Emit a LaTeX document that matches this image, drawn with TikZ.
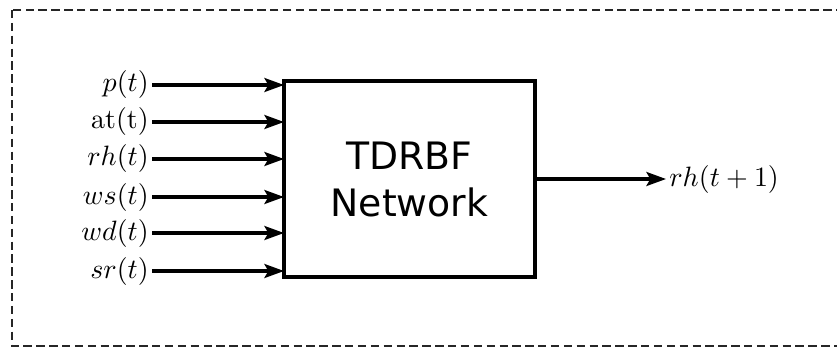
\documentclass[tikz,border=0pt]{standalone}
\usepackage{fontspec}
\newfontfamily\dejavu{DejaVu Sans}
\usetikzlibrary{arrows.meta}
\begin{document}
\begin{tikzpicture}[x=0.3575pt,y=-0.3575pt,
  inarrow/.style={line width=1.1pt,-{Stealth[length=7pt,width=5pt,inset=1.4pt]}},
  lbl/.style={inner sep=1pt,font=\fontsize{10}{12}\selectfont},
  netbox/.style={draw,line width=1.1pt,minimum width=251*0.3575pt,minimum height=196*0.3575pt,align=center,font=\dejavu\fontsize{13.5}{16.8}\selectfont}]
\useasboundingbox (0,0) rectangle (837,347);
\draw[dash pattern=on 3pt off 1.6pt,line width=0.6pt,black!85] (12,10) rectangle (845,346);
\node[netbox] (net) at (409.5,179) {TDRBF\\Network};
\foreach \i/\t/\y in {1/p(t)/85,2/\mathrm{at(t)}/122,3/rh(t)/159,4/ws(t)/197,5/wd(t)/233,6/sr(t)/271}{
  \node[lbl,anchor=east] (in\i) at (152,\y) {$\t$};
  \coordinate (e\i) at (284,\y);
  \draw[inarrow] (in\i.east) -- (e\i);
}
\node[lbl,anchor=west] (out) at (666,179) {$rh(t+1)$};
\draw[inarrow] (net.east |- out.west) -- (out.west);
\end{tikzpicture}
\end{document}
